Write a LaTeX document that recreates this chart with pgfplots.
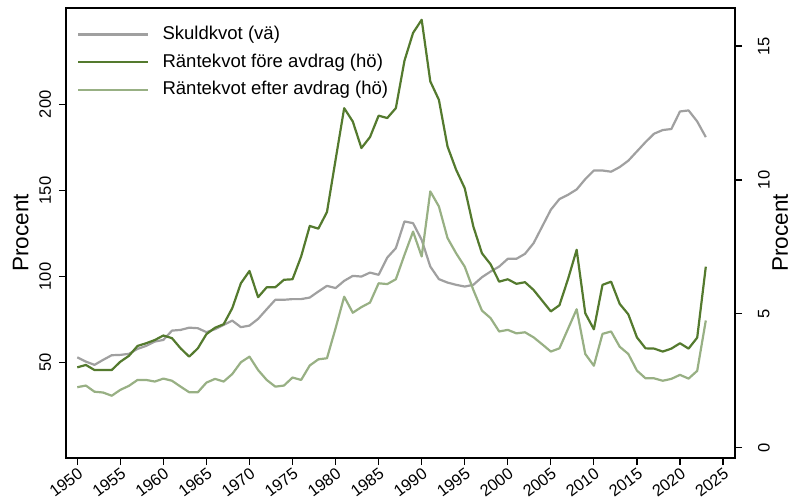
\documentclass[border=0pt]{standalone}
\usepackage{fontspec}
\setmainfont{Liberation Sans}
\usepackage{pgfplots}
\usepackage{pgfplotstable}
\pgfplotsset{compat=1.18}
\definecolor{skuld}{RGB}{160,160,160}
\definecolor{fore}{RGB}{84,122,46}
\definecolor{efter}{RGB}{152,176,132}

\pgfplotstableread{
year skuld fore efter
1950 53.1 3.00 2.26
1951 50.6 3.09 2.32
1952 48.7 2.90 2.09
1953 51.6 2.90 2.06
1954 54.3 2.90 1.94
1955 54.5 3.21 2.16
1956 55.1 3.43 2.31
1957 58.0 3.80 2.53
1958 59.7 3.90 2.53
1959 62.2 4.02 2.47
1960 63.2 4.19 2.58
1961 68.6 4.09 2.50
1962 69.0 3.71 2.28
1963 70.3 3.40 2.07
1964 70.0 3.71 2.07
1965 67.7 4.24 2.43
1966 69.4 4.48 2.57
1967 71.9 4.61 2.47
1968 74.4 5.21 2.75
1969 70.6 6.14 3.19
1970 71.5 6.60 3.40
1971 75.4 5.62 2.90
1972 81.0 5.99 2.53
1973 86.5 5.99 2.28
1974 86.5 6.27 2.32
1975 86.9 6.29 2.62
1976 86.9 7.14 2.53
1977 87.8 8.28 3.07
1978 91.3 8.18 3.30
1979 94.6 8.80 3.34
1980 93.3 10.75 4.46
1981 97.5 12.68 5.64
1982 100.4 12.18 5.04
1983 100.0 11.19 5.25
1984 102.3 11.60 5.42
1985 101.0 12.40 6.14
1986 111.0 12.31 6.11
1987 116.5 12.68 6.29
1988 132.0 14.45 7.20
1989 131.0 15.49 8.07
1990 121.3 15.98 7.14
1991 105.8 13.68 9.57
1992 98.5 12.99 9.01
1993 96.5 11.25 7.83
1994 95.2 10.38 7.26
1995 94.2 9.69 6.76
1996 95.2 8.26 5.89
1997 99.6 7.26 5.12
1998 102.9 6.85 4.84
1999 105.8 6.20 4.34
2000 110.3 6.29 4.40
2001 110.3 6.12 4.27
2002 113.2 6.18 4.31
2003 119.4 5.89 4.12
2004 129.1 5.49 3.86
2005 138.8 5.09 3.59
2006 145.0 5.32 3.71
2007 147.5 6.30 4.44
2008 150.6 7.39 5.17
2009 156.6 5.02 3.50
2010 161.6 4.42 3.06
2011 161.6 6.08 4.25
2012 160.9 6.20 4.34
2013 163.6 5.37 3.77
2014 167.3 4.98 3.50
2015 172.7 4.12 2.88
2016 178.1 3.71 2.59
2017 183.0 3.70 2.59
2018 185.1 3.59 2.50
2019 185.7 3.70 2.57
2020 195.9 3.90 2.72
2021 196.5 3.70 2.58
2022 190.1 4.11 2.87
2023 181.0 6.76 4.75
}\data

\pgfplotsset{
  base/.style={
    scale only axis, width=334.5bp, height=225bp,
    xmin=1948.69, xmax=2026.39,
    tick align=outside, major tick length=3.5bp,
    /pgf/number format/assume math mode=true,
    tick label style={font=\fontsize{8.3}{9}\selectfont},
    label style={font=\fontsize{11.3}{13}\selectfont},
    axis line style={line width=0.6bp},
    tick style={line width=0.6bp, black},
  },
  serie/.style={line width=1.1bp, line join=round},
}

\begin{document}
\begin{tikzpicture}
\path[use as bounding box] (-33bp,-19.5bp) rectangle (362.5bp,229bp);
\begin{axis}[base,
  ymin=-5.4, ymax=256, ytick={50,100,150,200}, ytick pos=left,
  xtick={1950,1955,...,2025}, xtick pos=bottom,
  x tick label style={font=\fontsize{8.2}{9}\selectfont, rotate=37, anchor=north east,
    inner sep=0.5bp, /pgf/number format/1000 sep={}},
  y tick label style={xshift=-0.5bp, rotate=90, anchor=south},
  ylabel={Procent}, ylabel shift=-1.5bp]
\addplot[skuld, serie] table[x=year, y=skuld] {\data};
\end{axis}
\begin{axis}[base,
  ymin=-0.385, ymax=16.42, ytick={0,5,10,15},
  axis y line*=right, axis x line=none,
  y tick label style={xshift=4.5bp, rotate=90, anchor=north},
  ylabel={Procent}, ylabel shift=-5.5bp,
  legend cell align=left,
  legend style={at={(0,1)}, anchor=north west, xshift=2.5bp, yshift=-5bp,
    draw=none, fill=none, font=\fontsize{9.3}{10}\selectfont, row sep=1.6bp,
    column sep=4.5bp},
  legend image code/.code={\draw[#1] (0bp,0bp) -- (35bp,0bp);}]
\addlegendimage{skuld, serie}
\addplot[fore, serie] table[x=year, y=fore] {\data};
\addplot[efter, serie] table[x=year, y=efter] {\data};
\legend{Skuldkvot (vä), Räntekvot före avdrag (hö), Räntekvot efter avdrag (hö)}
\end{axis}
\end{tikzpicture}
\end{document}
